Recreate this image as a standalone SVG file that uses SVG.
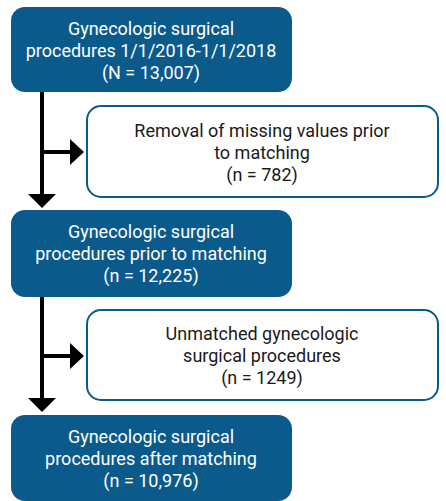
<svg xmlns="http://www.w3.org/2000/svg" width="446" height="501" viewBox="0 0 446 501">
<style>
.dark{fill:#0b5a8c;}
.light{fill:#ffffff;stroke:#0b5a8c;stroke-width:2;}
.t{font-family:Roboto,"Liberation Sans",sans-serif;font-size:18px;text-anchor:middle;}
.tw{fill:#ffffff;}
.tb{fill:#1a1a1a;}
.ln{stroke:#000;stroke-width:4;fill:none;}
.ah{fill:#000;}
</style>
<rect width="446" height="501" fill="#ffffff"/>
<g id="connectors">
<path class="ln" d="M42 92 V196"/>
<polygon class="ah" points="28,194 56,194 42,208"/>
<path class="ln" d="M42 152 H72"/>
<polygon class="ah" points="70,139 84,152 70,165"/>
<path class="ln" d="M42 297 V400"/>
<polygon class="ah" points="28,398 56,398 42,412"/>
<path class="ln" d="M42 356 H72"/>
<polygon class="ah" points="70,343 84,356 70,369"/>
</g>
<g id="n1">
<rect class="dark" x="11" y="7" width="281" height="85" rx="14"/>
<text class="t tw" x="151" y="35">Gynecologic surgical</text>
<text class="t tw" x="151" y="57">procedures 1/1/2016-1/1/2018</text>
<text class="t tw" x="151" y="79">(N = 13,007)</text>
</g>
<g id="n2">
<rect class="light" x="87" y="106" width="351" height="91" rx="14"/>
<text class="t tb" x="262" y="137">Removal of missing values prior</text>
<text class="t tb" x="262" y="159">to matching</text>
<text class="t tb" x="262" y="181">(n = 782)</text>
</g>
<g id="n3">
<rect class="dark" x="11" y="210" width="281" height="87" rx="14"/>
<text class="t tw" x="151" y="238">Gynecologic surgical</text>
<text class="t tw" x="151" y="260">procedures prior to matching</text>
<text class="t tw" x="151" y="282">(n = 12,225)</text>
</g>
<g id="n4">
<rect class="light" x="87" y="310" width="351" height="90" rx="14"/>
<text class="t tb" x="262" y="340">Unmatched gynecologic</text>
<text class="t tb" x="262" y="362">surgical procedures</text>
<text class="t tb" x="262" y="384">(n = 1249)</text>
</g>
<g id="n5">
<rect class="dark" x="11" y="415" width="281" height="86" rx="14"/>
<text class="t tw" x="151" y="443">Gynecologic surgical</text>
<text class="t tw" x="151" y="465">procedures after matching</text>
<text class="t tw" x="151" y="487">(n = 10,976)</text>
</g>
</svg>
